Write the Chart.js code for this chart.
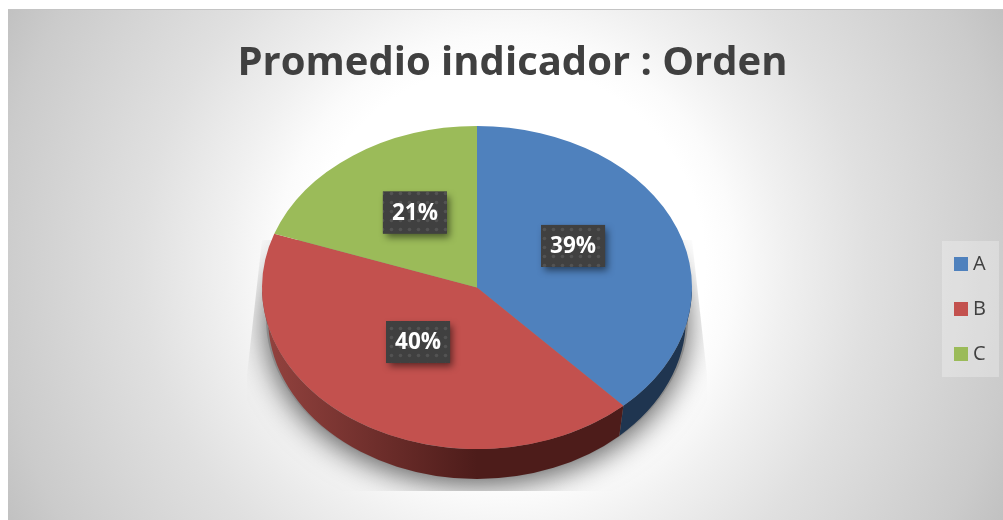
<!DOCTYPE html>
<html><head><meta charset="utf-8">
<style>html,body{margin:0;padding:0;background:#fff}canvas{display:block}</style>
<script src="https://cdn.jsdelivr.net/npm/chart.js@4"></script>
</head><body>
<div style="width:1003px;height:520px"><canvas id="c" width="1003" height="520"></canvas></div>
<script>
const categories = ['A', 'B', 'C'];
const shares = [39, 40, 21];
const sliceColors = ['#4f81bd', '#c3514e', '#9bbb59'];
const chartTitle = 'Promedio indicador : Orden';

const CX = 477, CY = 287.5, RX = 215, RY = 161.5;
const BASE_CY = 318, BASE_RX = 209, BASE_RY = 161;   // lower rim of the disc
const PERSPECTIVE = 5.2 * Math.PI / 180;             // angular foreshortening of the tilted disc
const LABEL_NUDGE = [[-4,-12],[0,-13],[0,-9]];
const LEGEND_DX = -3;

function swatch(color){
  const s = document.createElement('canvas'); s.width = 14; s.height = 14;
  const g = s.getContext('2d'); g.fillStyle = color; g.fillRect(0,0,14,14);
  return s;
}
function dotPattern(ctx){
  const s = document.createElement('canvas'); s.width = 9; s.height = 9;
  const g = s.getContext('2d');
  g.fillStyle = '#404040'; g.fillRect(0,0,9,9);
  g.fillStyle = 'rgba(255,255,255,0.10)';
  g.beginPath(); g.arc(4.5,4.5,1.8,0,Math.PI*2); g.fill();
  return ctx.createPattern(s,'repeat');
}
function frame(chart){
  const a = chart.getDatasetMeta(0).data[0];
  return {a, sx: RX / a.outerRadius, sy: RY / a.outerRadius};
}
// canvas angle -> angle as seen on the tilted disc
function warp(ang){
  const clock = ang + Math.PI/2;
  return ang - PERSPECTIVE * Math.sin(clock);
}
const pie3d = {
  id:'pie3d',
  afterDatasetsUpdate(chart){
    chart.getDatasetMeta(0).data.forEach(el=>{
      el.startAngle = warp(el.startAngle);
      el.endAngle = warp(el.endAngle);
      el.circumference = el.endAngle - el.startAngle;
    });
  },
  afterLayout(chart){
    const lg = chart.legend;
    const shiftY = 309 - (lg.top + lg.bottom)/2;
    lg.top += shiftY; lg.bottom += shiftY;
    lg.left += LEGEND_DX; lg.right += LEGEND_DX;
  },
  beforeDraw(chart){
    const ctx = chart.ctx, W = chart.width, H = chart.height;
    ctx.save();
    ctx.fillStyle = '#fff'; ctx.fillRect(0,0,W,H);
    ctx.beginPath(); ctx.rect(8,9,W-8,H-9); ctx.clip();
    const g = ctx.createRadialGradient(505,265,0,505,265,575);
    [[0,'#ffffff'],[200,'#ffffff'],[230,'#fbfbfb'],[280,'#f0f0f0'],[364,'#e0e0e0'],[511,'#cbcbcb'],[575,'#bebebe']]
      .forEach(([r,c])=>g.addColorStop(r/575,c));
    ctx.fillStyle = g; ctx.fillRect(8,9,W-8,H-9);
    ctx.fillStyle = '#c4c4c4'; ctx.fillRect(8,9,W-8,1);
    ctx.fillStyle = 'rgba(255,255,255,0.27)'; ctx.fillRect(942,241,57,136);
    ctx.restore();
  },
  beforeDatasetsDraw(chart){
    const ctx = chart.ctx;
    ctx.save();
    ctx.beginPath();
    ctx.moveTo(CX-RX,240); ctx.lineTo(CX-RX-15,375); ctx.lineTo(CX-RX-15,491);
    ctx.lineTo(CX+RX+15,491); ctx.lineTo(CX+RX+15,375); ctx.lineTo(CX+RX,240); ctx.closePath(); ctx.clip();
    ctx.shadowColor = 'rgba(0,0,0,0.65)'; ctx.shadowBlur = 30; ctx.shadowOffsetY = 6;
    ctx.fillStyle = '#8a8a8a';
    ctx.beginPath(); ctx.ellipse(CX,BASE_CY,BASE_RX+2,BASE_RY,0,0,Math.PI*2); ctx.fill();
    ctx.restore();
    const wallRed = ctx.createLinearGradient(CX-RX,0,CX,0);
    wallRed.addColorStop(0,'#94433f'); wallRed.addColorStop(1,'#4d1c1a');
    const fills = ['#1f3550', wallRed, '#5c7034'];
    chart.getDatasetMeta(0).data.forEach((el,i)=>{
      const from = Math.max(el.startAngle, 0), to = Math.min(el.endAngle, Math.PI);
      if (to <= from) return;
      ctx.save();
      ctx.beginPath();
      ctx.ellipse(CX,CY,RX,RY,0,from,to);
      ctx.ellipse(CX,BASE_CY,BASE_RX,BASE_RY,0,to,from,true);
      ctx.closePath();
      ctx.fillStyle = fills[i]; ctx.fill();
      ctx.restore();
    });
  },
  beforeDatasetDraw(chart){
    const ctx = chart.ctx, {a, sx, sy} = frame(chart);
    ctx.save();
    ctx.translate(CX,CY); ctx.scale(sx,sy); ctx.translate(-a.x,-a.y);
  },
  afterDatasetDraw(chart){ chart.ctx.restore(); },
  afterDatasetsDraw(chart){
    const ctx = chart.ctx, {a, sx, sy} = frame(chart);
    const pat = dotPattern(ctx);
    chart.getDatasetMeta(0).data.forEach((el,i)=>{
      const p = el.getCenterPoint();
      const x = CX + (p.x-a.x)*sx + LABEL_NUDGE[i][0], y = CY + (p.y-a.y)*sy + LABEL_NUDGE[i][1];
      const w = 64, h = 42;
      ctx.save();
      ctx.shadowColor = 'rgba(0,0,0,0.5)'; ctx.shadowBlur = 7; ctx.shadowOffsetX = 3; ctx.shadowOffsetY = 4;
      ctx.fillStyle = '#404040'; ctx.fillRect(x-w/2,y-h/2,w,h);
      ctx.shadowColor = 'transparent';
      ctx.fillStyle = pat; ctx.fillRect(x-w/2,y-h/2,w,h);
      ctx.fillStyle = '#fff'; ctx.font = 'bold 22.5px "Open Sans"';
      ctx.textAlign = 'center'; ctx.textBaseline = 'middle';
      ctx.fillText(shares[i] + '%', x, y+1);
      ctx.restore();
    });
  }
};

new Chart(document.getElementById('c'), {
  type:'pie',
  data:{labels:categories, datasets:[{data:shares, backgroundColor:sliceColors, borderWidth:0}]},
  plugins:[pie3d],
  options:{
    responsive:false, animation:false,
    layout:{padding:{left:26,right:4,top:40,bottom:4}},
    plugins:{
      tooltip:{enabled:false},
      title:{display:true,text:chartTitle,color:'#404040',font:{family:'"Open Sans"',size:40,weight:'bold'},padding:{top:0,bottom:10}},
      legend:{
        position:'right',
        labels:{
          color:'#404040', font:{family:'"Open Sans"',size:20}, usePointStyle:true, boxWidth:4, padding:25,
          generateLabels:()=>categories.map((c,i)=>({text:c,fillStyle:sliceColors[i],strokeStyle:sliceColors[i],lineWidth:0,pointStyle:swatch(sliceColors[i]),hidden:false,index:i,fontColor:'#404040'}))
        }
      }
    }
  }
});
</script>
</body></html>
